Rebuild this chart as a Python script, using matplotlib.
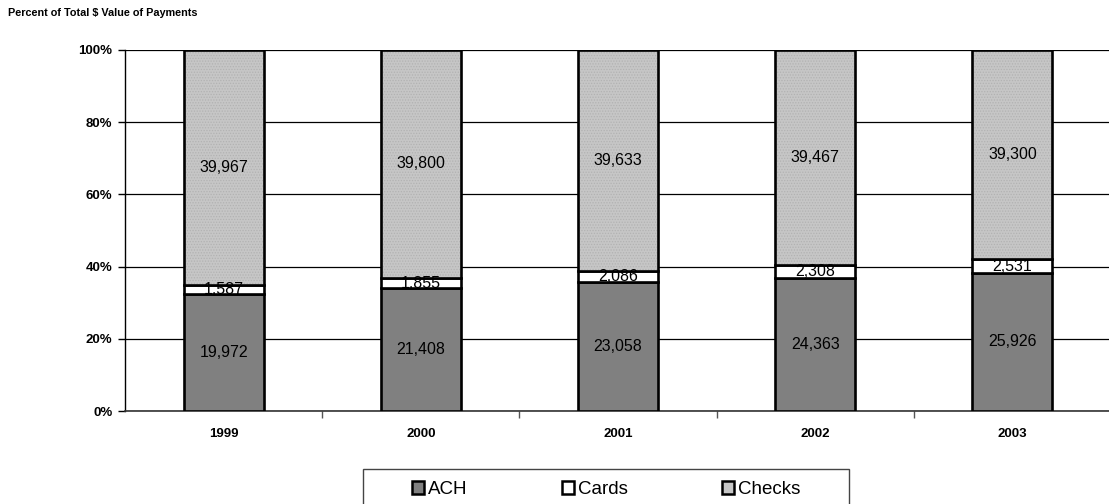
import matplotlib
matplotlib.use("Agg")
import matplotlib.pyplot as plt
import numpy as np
from matplotlib.patches import Patch, Rectangle

plt.rcParams['font.family'] = ['Liberation Sans', 'DejaVu Sans']
plt.rcParams['hatch.linewidth'] = 0.6

years = ["1999", "2000", "2001", "2002", "2003"]
ach = [19972, 21408, 23058, 24363, 25926]
cards = [1587, 1855, 2086, 2308, 2531]
checks = [39967, 39800, 39633, 39467, 39300]

series_names = ["ACH", "Cards", "Checks"]
face_colors = ["#808080", "#FFFFFF", "#C6C6C6"]

W, H = 1109, 504
fig = plt.figure(figsize=(W / 100, H / 100), dpi=100)
ax = fig.add_axes([125 / W, 1 - 411 / H, (1111 - 125) / W, (411 - 50) / H])

vals = np.array([ach, cards, checks], dtype=float)
totals = vals.sum(axis=0)
pct = vals / totals * 100
x = np.arange(len(years))
bw = 0.406

bottom = np.zeros(len(years))
for i, name in enumerate(series_names):
    kw = {}
    if name == "Checks":
        kw = dict(hatch="......")
    bars = ax.bar(x, pct[i], bw, bottom=bottom, color=face_colors[i],
                  edgecolor="black", linewidth=1.9, zorder=3, **kw)
    for xi, b0, h, v in zip(x, bottom, pct[i], vals[i]):
        ax.text(xi, b0 + h / 2, f"{int(v):,}", ha="center", va="center",
                fontsize=11.5, color="black", zorder=5)
    bottom += pct[i]

# checks stipple in a lighter grey than the outline
for p in ax.patches[2 * len(years):]:
    p._hatch_color = matplotlib.colors.to_rgba("#B2B2B2")

ax.set_xlim(-0.5, len(years) - 0.5)
ax.set_ylim(0, 100)
ax.set_yticks(np.arange(0, 101, 20))
ax.set_yticklabels([f"{v}%" for v in range(0, 101, 20)], fontsize=9.5, fontweight="bold")
ax.yaxis.grid(True, color="black", linewidth=0.9, zorder=0)
ax.set_axisbelow(True)

ax.set_xticks(x)
ax.set_xticklabels(years, fontsize=9.5, fontweight="bold")
ax.tick_params(axis="x", length=0, pad=12)
ax.set_xticks(np.arange(0.5, len(years) - 0.5, 1), minor=True)
ax.tick_params(axis="x", which="minor", length=5, width=1, direction="out", color="#555555")
ax.tick_params(axis="y", length=5, width=1, direction="out", pad=4)

for s in ["top", "right"]:
    ax.spines[s].set_visible(False)
ax.spines["left"].set_linewidth(1.0)
ax.spines["bottom"].set_linewidth(1.2)
ax.spines["bottom"].set_color("#333333")

fig.text(8 / W, 1 - 13 / H, "Percent of Total $ Value of Payments", fontsize=7.8,
         fontweight="bold", ha="left", va="center")
fig.text(612 / W, 1 + 4 / H, "(Figures in Billions of Dollars)", fontsize=13,
         fontweight="bold", ha="center", va="baseline")

# legend frame (runs past the lower edge of the figure)
fig.patches.append(Rectangle((363 / W, -20 / H), (849 - 363) / W, (20 + 504 - 469) / H,
                             transform=fig.transFigure, facecolor="white",
                             edgecolor="#444444", linewidth=1.0, zorder=1))

handles = [Patch(facecolor=c, edgecolor="black", linewidth=1.8) for c in face_colors]
leg = fig.legend(handles, series_names, loc="upper left",
                 bbox_to_anchor=(412 / W, 1 - 481 / H), ncol=3, fontsize=13.5,
                 frameon=False, handlelength=0.65, handleheight=0.65,
                 handletextpad=0.2, columnspacing=5.03, borderpad=0,
                 borderaxespad=0)
leg.set_zorder(2)

fig.savefig("out.png", dpi=100)
